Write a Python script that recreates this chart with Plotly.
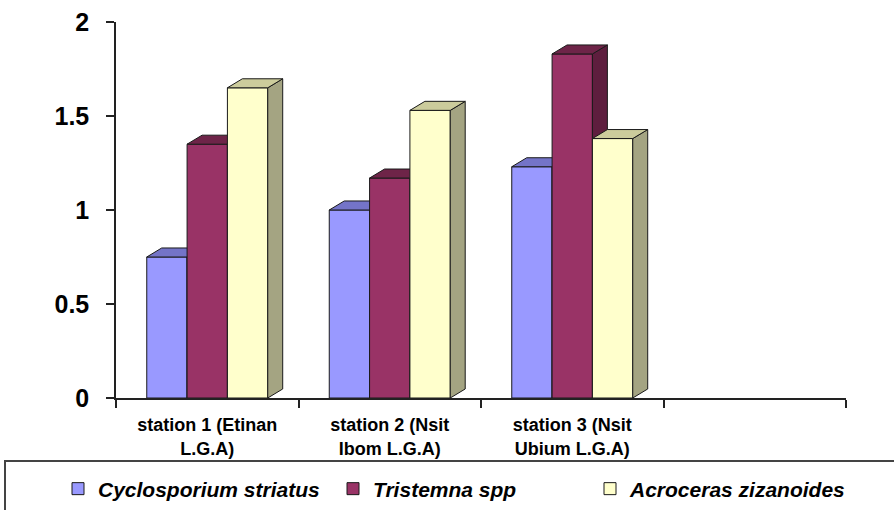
import plotly.graph_objects as go

# ---- data ----
stations = ["station 1 (Etinan<br>L.G.A)", "station 2 (Nsit<br>Ibom L.G.A)", "station 3 (Nsit<br>Ubium L.G.A)"]
series_names = ["Cyclosporium striatus", "Tristemna spp", "Acroceras zizanoides"]
cyclosporium = [0.75, 1.00, 1.23]
tristemna = [1.35, 1.17, 1.83]
acroceras = [1.65, 1.53, 1.38]
y_ticks = [0, 0.5, 1, 1.5, 2]
y_ticktext = ["0", "0.5", "1", "1.5", "2"]

# ---- style ----
front_colors = ["#9999FF", "#993366", "#FFFFCC"]
top_colors = ["#7474C8", "#6E2448", "#CCCC9C"]
side_colors = ["#5E5EA6", "#5E1E3E", "#A4A482"]
edge = "#1a1a1a"
BAR_W = 0.221      # bar width in category units
DX = 0.082         # 3D depth offset (x, category units)
DY = 0.048         # 3D depth offset (y, value units)
FONT = "Liberation Sans, Arial, sans-serif"

all_series = [cyclosporium, tristemna, acroceras]
xpos = list(range(len(stations)))

fig = go.Figure()
for i, (name, vals) in enumerate(zip(series_names, all_series)):
    ax = "" if i == 0 else str(i + 1)
    offset = -1.5 * BAR_W + i * BAR_W
    fig.add_trace(go.Bar(
        x=xpos, y=vals, name=name, width=BAR_W, offset=offset,
        marker=dict(color=front_colors[i], line=dict(color=edge, width=1)),
        xaxis="x" + ax, yaxis="y" + ax, legend="legend" if i == 0 else "legend" + str(i + 1),
        hoverinfo="skip",
    ))
    sx, sy, tx, ty = [], [], [], []
    for xc, v in zip(xpos, vals):
        xl = xc + offset
        xr = xl + BAR_W
        sx += [xr, xr, xr + DX, xr + DX, xr, None]
        sy += [0, v, v + DY, DY, 0, None]
        tx += [xl, xl + DX, xr + DX, xr, xl, None]
        ty += [v, v + DY, v + DY, v, v, None]
    fig.add_trace(go.Scatter(x=sx, y=sy, mode="lines", fill="toself", fillcolor=side_colors[i],
                             line=dict(color=edge, width=1), showlegend=False, hoverinfo="skip",
                             xaxis="x" + ax, yaxis="y" + ax))
    fig.add_trace(go.Scatter(x=tx, y=ty, mode="lines", fill="toself", fillcolor=top_colors[i],
                             line=dict(color=edge, width=1), showlegend=False, hoverinfo="skip",
                             xaxis="x" + ax, yaxis="y" + ax))

XR = [-0.5, 3.5]
YR = [0, 2]
hidden_x = dict(range=XR, visible=False, fixedrange=True)
hidden_y = dict(range=YR, visible=False, fixedrange=True)

leg_common = dict(orientation="h", xanchor="left", yanchor="middle", y=(398 - 489) / 376,
                  font=dict(family=FONT, size=21, color="#000", weight="bold", style="italic"),
                  bgcolor="rgba(0,0,0,0)", borderwidth=0, itemwidth=30)

fig.update_layout(
    width=894, height=510,
    margin=dict(l=116, r=48, t=22, b=112, autoexpand=False),
    paper_bgcolor="white", plot_bgcolor="white",
    barmode="overlay",
    font=dict(family=FONT, color="#000"),
    xaxis=dict(
        range=XR, tickmode="array", tickvals=xpos, ticktext=stations, ticks="",
        tickfont=dict(family=FONT, size=18, color="#000", weight="bold"),
        ticklabelstandoff=10,
        showline=True, linecolor="#222", linewidth=1.5, showgrid=False, zeroline=False,
        minor=dict(tickmode="array", tickvals=[-0.5, 0.5, 1.5, 2.5, 3.5], ticks="outside",
                   ticklen=8, tickcolor="#222", tickwidth=1.5, showgrid=False),
        fixedrange=True,
    ),
    yaxis=dict(
        range=YR, tickmode="array", tickvals=y_ticks, ticktext=y_ticktext,
        ticks="outside", ticklen=8, tickcolor="#222", tickwidth=1.5,
        tickfont=dict(family=FONT, size=25, color="#000", weight="bold"),
        ticklabelstandoff=12,
        showline=True, linecolor="#222", linewidth=1.5, showgrid=False, zeroline=False,
        fixedrange=True,
    ),
    xaxis2=dict(hidden_x, overlaying="x"), yaxis2=dict(hidden_y, overlaying="y"),
    xaxis3=dict(hidden_x, overlaying="x"), yaxis3=dict(hidden_y, overlaying="y"),
    legend=dict(leg_common, x=(58 - 116) / 730),
    legend2=dict(leg_common, x=(333 - 116) / 730),
    legend3=dict(leg_common, x=(590 - 116) / 730),
    shapes=[dict(type="rect", xref="paper", yref="paper",
                 x0=(5 - 116) / 730, x1=(905 - 116) / 730,
                 y0=(398 - 525) / 376, y1=(398 - 461) / 376,
                 line=dict(color="#444", width=2), fillcolor="rgba(0,0,0,0)", layer="below")],
)

fig.write_html("out.html")
